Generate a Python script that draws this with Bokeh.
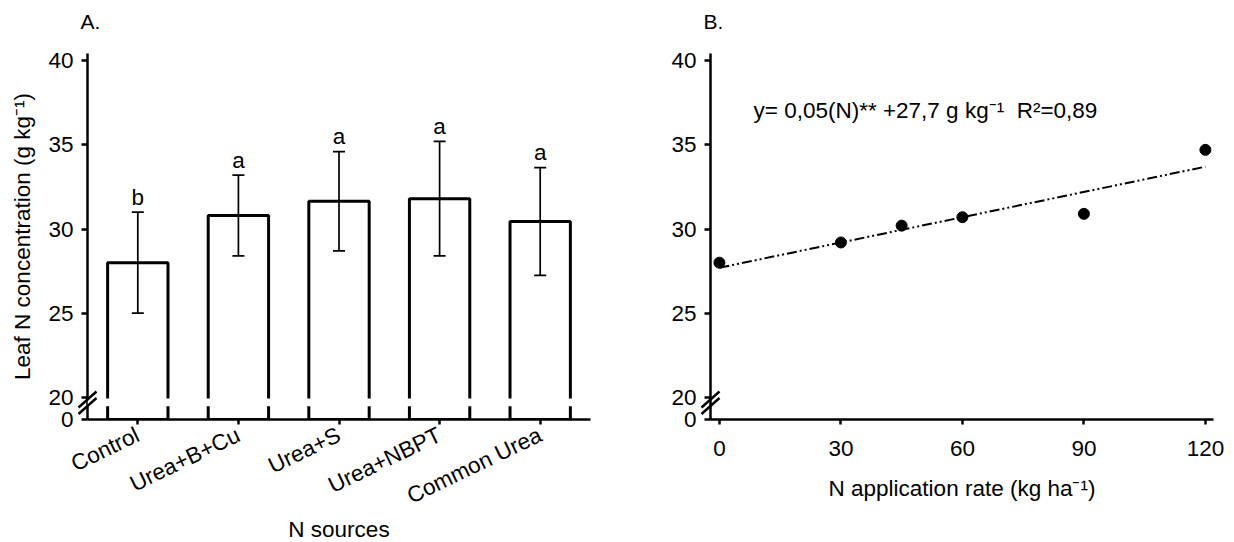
from bokeh.plotting import figure
from bokeh.layouts import row
from bokeh.models import (ColumnDataSource, FixedTicker, Whisker, TeeHead, Label,
                          Range1d, FactorRange, BoxAnnotation)
from bokeh.core.properties import value
from bokeh.embed import file_html
from bokeh.resources import INLINE

# ---------------- data ----------------
sources = ["Control", "Urea+B+Cu", "Urea+S", "Urea+NBPT", "Common Urea"]
leaf_n = [28.0, 30.8, 31.65, 31.8, 30.45]
leaf_n_err = [3.0, 2.4, 2.95, 3.4, 3.2]
letters = ["b", "a", "a", "a", "a"]

rates = [0, 30, 45, 60, 90, 120]
leaf_n_rate = [28.0, 29.2, 30.2, 30.7, 30.9, 34.7]
slope = 0.05
intercept = 27.7
r2 = 0.89

y_ticks = [20, 25, 30, 35, 40]
x_ticks_b = [0, 30, 60, 90, 120]

# broken axis: the "0" is drawn just below 20
AXIS_ZERO = 18.69
Y_TOP = 40.42
FONT = "Liberation Sans"
FS = "22.5px"

FRAME_W = 503
FRAME_H = 366
PX_Y = (Y_TOP - AXIS_ZERO) / FRAME_H   # data units per pixel (y)


def style(p):
    p.outline_line_color = None
    p.xgrid.visible = False
    p.ygrid.visible = False
    p.background_fill_color = "white"
    p.border_fill_color = "white"
    for ax in (p.xaxis[0], p.yaxis[0]):
        ax.axis_line_width = 2.5
        ax.axis_line_color = "black"
        ax.major_tick_line_width = 2.5
        ax.major_tick_line_color = "black"
        ax.major_tick_in = 0
        ax.major_tick_out = 6
        ax.minor_tick_line_color = None
        ax.major_label_text_font = FONT
        ax.major_label_text_font_size = FS
        ax.major_label_text_color = "black"
        ax.axis_label_text_font = FONT
        ax.axis_label_text_font_size = FS
        ax.axis_label_text_font_style = "normal"
        ax.axis_label_text_color = "black"
    p.yaxis[0].ticker = FixedTicker(ticks=[AXIS_ZERO] + y_ticks)
    p.yaxis[0].major_label_overrides = {AXIS_ZERO: "0"}
    p.yaxis[0].major_label_standoff = 8


def add_panel_label(p, text, x_left, px_x):
    p.text(x=[x_left - 7 * px_x], y=[Y_TOP + 32 * PX_Y], text=[text],
           text_font=value(FONT), text_font_size="21px", level="overlay",
           text_baseline="middle", text_align="left", text_color="black")


def add_break(p, x_axis, px_x):
    # two short slashes across the y axis, between 0 and 20
    dx = 9 * px_x
    dy = 8 * PX_Y
    centers = [20 - 2.1 * PX_Y, 20 - 8.6 * PX_Y]
    p.segment(x0=[x_axis - dx] * 2, y0=[c - dy for c in centers],
              x1=[x_axis + dx] * 2, y1=[c + dy for c in centers],
              line_color="black", line_width=2.5, level="overlay")


# ---------------- panel A ----------------
srcA = ColumnDataSource(dict(
    cat=sources, val=leaf_n,
    upper=[v + e for v, e in zip(leaf_n, leaf_n_err)],
    lower=[v - e for v, e in zip(leaf_n, leaf_n_err)],
    letter_y=[v + e + 15 * PX_Y for v, e in zip(leaf_n, leaf_n_err)],
    letters=letters))

pA = figure(x_range=FactorRange(*sources, range_padding=0),
            y_range=Range1d(AXIS_ZERO, Y_TOP),
            frame_width=FRAME_W, frame_height=FRAME_H,
            min_border_left=87, min_border_right=30, min_border_top=52,
            min_border_bottom=124,
            output_backend="svg", toolbar_location=None)
style(pA)
pA.vbar(x="cat", top="val", bottom=AXIS_ZERO, width=0.6, source=srcA,
        fill_color="white", line_color="black", line_width=3)
pA.add_layout(BoxAnnotation(bottom=20 - 8.9 * PX_Y, top=20 - 1.0 * PX_Y,
                            fill_color="white", fill_alpha=1.0, line_color=None))
pA.add_layout(Whisker(source=srcA, base="cat", upper="upper", lower="lower",
                      level="annotation", line_width=1.7, line_color="black",
                      upper_head=TeeHead(size=12, line_width=1.7, line_color="black"),
                      lower_head=TeeHead(size=12, line_width=1.7, line_color="black")))
pA.text(x="cat", y="letter_y", text="letters", source=srcA, text_align="center",
        text_baseline="middle", text_font=value(FONT),
        text_font_size=FS, text_color="black")
pA.xaxis[0].major_label_orientation = 0.45
pA.xaxis[0].major_tick_out = 5
pA.xaxis[0].major_label_standoff = 9
pA.xaxis[0].axis_label = "N sources"
pA.xaxis[0].axis_label_standoff = -6
pA.yaxis[0].axis_label = "Leaf N concentration (g kg⁻¹)"
pA.yaxis[0].axis_label_standoff = 10
pxA = len(sources) / FRAME_W
add_panel_label(pA, "A.", 0, pxA)
add_break(pA, 0, pxA)

# ---------------- panel B ----------------
XB0, XB1 = -2.2, 122
pxB = (XB1 - XB0) / FRAME_W
pB = figure(x_range=Range1d(XB0, XB1), y_range=Range1d(AXIS_ZERO, Y_TOP),
            frame_width=FRAME_W, frame_height=FRAME_H,
            min_border_left=90, min_border_right=21, min_border_top=53,
            min_border_bottom=123,
            output_backend="svg", toolbar_location=None)
style(pB)
pB.xaxis[0].ticker = FixedTicker(ticks=x_ticks_b)
pB.xaxis[0].major_tick_out = 5
pB.xaxis[0].major_label_standoff = 16
pB.xaxis[0].axis_label = "N application rate (kg ha⁻¹)"
pB.xaxis[0].axis_label_standoff = 17
fit_x = [min(rates), max(rates)]
fit_y = [intercept + slope * x for x in fit_x]
pB.line(x=fit_x, y=fit_y, line_color="black", line_width=2,
        line_dash="10 3 2 3 2 3")
pB.scatter(x=rates, y=leaf_n_rate, size=11, color="black")
eq = ("y= " + f"{slope:.2f}".replace(".", ",") + "(N)** +" +
      f"{intercept:.1f}".replace(".", ",") + " g kg⁻¹\u00a0\u00a0R²=" +
      f"{r2:.2f}".replace(".", ","))
pB.add_layout(Label(x=XB0 + 43 * pxB, y=Y_TOP - 57 * PX_Y, text=eq,
                    text_font=FONT, text_font_size=FS,
                    text_baseline="middle", text_color="black"))
add_panel_label(pB, "B.", XB0, pxB)
add_break(pB, XB0, pxB)

layout = row(pA, pB)
open("out.html", "w").write(file_html(layout, INLINE))
